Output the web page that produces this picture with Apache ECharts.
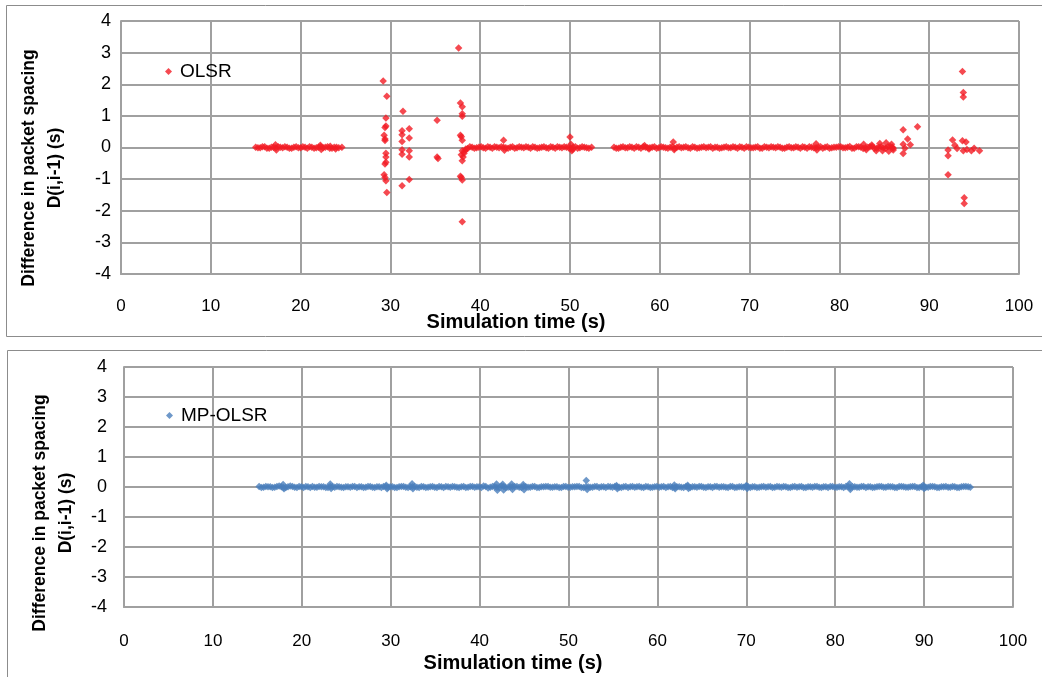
<!DOCTYPE html>
<html>
<head>
<meta charset="utf-8">
<script src="https://cdn.jsdelivr.net/npm/echarts@6/dist/echarts.min.js"></script>
<style>html,body{margin:0;padding:0;background:#fff}#c{width:1042px;height:677px}</style>
</head>
<body>
<div id="c"></div>
<script>
// ---------- data ----------
const xTickLabels = ['0','10','20','30','40','50','60','70','80','90','100'];
const yTickLabels = ['-4','-3','-2','-1','0','1','2','3','4'];

// OLSR: dense band of near-zero values (two interleaved readings)
const olsrBandTime = [
  15.0,15.5,16.0,16.5,17.0,17.5,18.0,18.5,19.0,19.5,20.0,20.5,21.0,21.5,22.0,22.5,23.0,23.5,24.0,24.6,
  38.6,39.1,39.6,40.1,40.6,41.1,41.6,42.1,42.6,43.1,43.6,44.1,44.6,45.1,45.6,46.1,46.6,47.1,47.6,48.1,
  48.6,49.1,49.6,50.1,50.6,51.1,51.6,52.1,52.4,
  54.9,55.4,55.9,56.4,56.9,57.4,57.9,58.4,58.9,59.4,59.9,60.4,60.9,61.4,61.9,62.4,62.9,63.4,63.9,64.4,
  64.9,65.4,65.9,66.4,66.9,67.4,67.9,68.4,68.9,69.4,69.9,70.4,70.9,71.4,71.9,72.4,72.9,73.4,73.9,74.4,
  74.9,75.4,75.9,76.4,76.9,77.4,77.9,78.4,78.9,79.4,79.9,80.4,80.9,81.4,81.9,82.4,82.9,83.4,83.9,84.4,
  84.9,85.4,85.9,86.0
];
const olsrBandDiff = [
  0.01,-0.01,0.02,-0.02,0.01,0.02,-0.01,0.01,-0.02,0.02,-0.01,0.01,0.02,-0.02,0.01,-0.01,0.02,-0.02,0.01,0.01,
  -0.03,0.01,-0.01,0.02,-0.02,0.01,0.02,-0.01,0.01,-0.02,0.02,-0.01,0.01,0.02,-0.02,0.01,-0.01,0.02,-0.02,0.01,
  0.02,-0.01,0.01,-0.02,0.02,-0.01,0.01,-0.02,0.01,
  0.01,-0.02,0.02,-0.01,0.01,0.02,-0.02,0.01,-0.01,0.02,-0.01,0.01,-0.02,0.02,0.01,-0.01,0.02,-0.02,0.01,-0.01,
  0.02,0.01,-0.02,0.01,-0.01,0.02,-0.01,0.01,0.02,-0.02,0.01,-0.01,0.02,-0.02,0.01,0.02,-0.01,0.01,-0.02,0.02,
  -0.01,0.01,0.02,-0.02,0.01,-0.01,0.02,0.01,-0.02,0.01,0.02,-0.01,0.01,-0.02,0.02,0.01,-0.01,0.02,-0.02,0.01,
  -0.01,0.02,0.01,-0.02
];
const olsrBandTime2 = [
  15.25,15.75,16.25,16.75,17.25,17.75,18.25,18.75,19.25,19.75,20.25,20.75,21.25,21.75,22.25,22.75,23.25,23.75,24.25,
  38.85,39.35,39.85,40.35,40.85,41.35,41.85,42.35,42.85,43.35,43.85,44.35,44.85,45.35,45.85,46.35,46.85,47.35,47.85,48.35,
  48.85,49.35,49.85,50.35,50.85,51.35,51.85,
  55.15,55.65,56.15,56.65,57.15,57.65,58.15,58.65,59.15,59.65,60.15,60.65,61.15,61.65,62.15,62.65,63.15,63.65,64.15,64.65,
  65.15,65.65,66.15,66.65,67.15,67.65,68.15,68.65,69.15,69.65,70.15,70.65,71.15,71.65,72.15,72.65,73.15,73.65,74.15,74.65,
  75.15,75.65,76.15,76.65,77.15,77.65,78.15,78.65,79.15,79.65,80.15,80.65,81.15,81.65,82.15,82.65,83.15,83.65,84.15,84.65,
  85.15,85.65
];
const olsrBandDiff2 = [
  -0.01,0.02,-0.02,0.01,-0.01,0.01,0.02,-0.02,0.01,-0.01,0.02,-0.02,0.01,-0.01,0.02,0.01,-0.02,0.01,-0.01,
  0.02,-0.02,0.01,-0.01,0.02,-0.02,0.01,0.02,-0.01,0.01,-0.02,0.02,-0.01,0.01,0.02,-0.02,0.01,-0.01,0.02,-0.02,
  0.01,0.02,-0.01,0.01,-0.02,0.02,-0.01,
  -0.02,0.01,-0.01,0.02,-0.02,0.01,0.02,-0.01,0.01,-0.02,0.02,-0.01,0.01,-0.02,0.02,0.01,-0.01,0.02,-0.02,0.01,
  -0.01,0.02,0.01,-0.02,0.01,-0.01,0.02,-0.02,0.01,0.02,-0.01,0.01,-0.02,0.02,-0.01,0.01,0.02,-0.02,0.01,-0.01,
  0.02,-0.02,0.01,0.02,-0.01,0.01,-0.02,0.02,-0.01,0.01,0.02,-0.01,0.03,-0.02,0.02,-0.03,0.01,0.03,-0.02,0.02,
  -0.02,0.03
];
// OLSR: spikes and outliers
const olsrSpikeTime = [
  17.2,17.3,22.2,22.3,23.3,23.9,
  29.2,29.6,29.5,29.5,29.4,29.3,29.4,29.4,29.5,29.5,29.5,29.4,29.3,29.4,29.5,29.6,
  31.4,31.3,31.3,31.3,31.3,31.3,31.3,
  32.1,32.1,32.1,32.1,32.1,
  35.2,35.2,35.3,
  37.6,37.8,38.0,38.0,38.0,37.8,37.9,38.0,38.0,37.9,38.0,37.8,37.9,38.0,38.0,
  38.1,38.2,38.3,38.4,
  42.6,42.7,50.0,50.1,50.2,50.3,
  58.3,58.8,61.5,61.6,77.4,77.5,
  82.7,83.0,83.6,84.1,84.5,84.8,85.2,85.5,85.8,86.0,
  87.1,88.7,87.6,87.9,87.1,87.3,87.1,
  92.1,92.1,92.1,92.6,92.85,93.1,93.7,94.1,93.8,94.2,94.7,95.0,95.6,
  93.7,93.8,93.8,93.9,93.9
];
const olsrSpikeDiff = [
  0.09,-0.08,0.07,-0.06,0.04,-0.05,
  2.10,1.62,0.93,0.68,0.63,0.39,0.27,0.22,-0.18,-0.30,-0.47,-0.52,-0.86,-0.95,-1.05,-1.42,
  1.15,0.53,0.40,0.19,-0.07,-0.21,-1.21,
  0.59,0.30,-0.10,-0.30,-1.01,
  0.86,-0.30,-0.35,
  3.15,1.41,1.29,1.07,0.99,0.39,0.34,0.23,-0.10,-0.23,-0.42,-0.91,-0.95,-1.03,-2.35,
  -0.30,-0.18,-0.10,-0.05,
  0.23,-0.09,0.33,0.10,-0.10,-0.06,
  0.06,-0.05,0.17,-0.07,0.12,-0.08,
  0.10,-0.07,0.08,-0.10,0.13,-0.10,0.15,-0.12,0.10,-0.08,
  0.56,0.66,0.27,0.09,0.10,-0.02,-0.19,
  -0.08,-0.26,-0.86,0.24,0.07,-0.03,0.21,0.17,-0.10,-0.06,-0.10,-0.02,-0.10,
  2.40,1.74,1.60,-1.59,-1.77
];

// MP-OLSR: dense band of near-zero values (two interleaved readings)
const mpTime = [
  15.2,15.7,16.2,16.7,17.2,17.7,18.2,18.7,19.2,19.7,20.2,20.7,21.2,21.7,22.2,22.7,23.2,23.7,24.2,24.7,
  25.2,25.7,26.2,26.7,27.2,27.7,28.2,28.7,29.2,29.7,30.2,30.7,31.2,31.7,32.2,32.7,33.2,33.7,34.2,34.7,
  35.2,35.7,36.2,36.7,37.2,37.7,38.2,38.7,39.2,39.7,40.2,40.7,41.2,41.7,42.2,42.7,43.2,43.7,44.2,44.7,
  45.2,45.7,46.2,46.7,47.2,47.7,48.2,48.7,49.2,49.7,50.2,50.7,51.2,51.7,52.2,52.7,53.2,53.7,54.2,54.7,
  55.2,55.7,56.2,56.7,57.2,57.7,58.2,58.7,59.2,59.7,60.2,60.7,61.2,61.7,62.2,62.7,63.2,63.7,64.2,64.7,
  65.2,65.7,66.2,66.7,67.2,67.7,68.2,68.7,69.2,69.7,70.2,70.7,71.2,71.7,72.2,72.7,73.2,73.7,74.2,74.7,
  75.2,75.7,76.2,76.7,77.2,77.7,78.2,78.7,79.2,79.7,80.2,80.7,81.2,81.7,82.2,82.7,83.2,83.7,84.2,84.7,
  85.2,85.7,86.2,86.7,87.2,87.7,88.2,88.7,89.2,89.7,90.2,90.7,91.2,91.7,92.2,92.7,93.2,93.7,94.2,94.7,
  95.2
];
const mpDiff = [
  0.02,-0.01,0.01,-0.02,0.02,0.01,-0.02,0.03,-0.01,0.02,-0.02,0.01,0.02,-0.01,0.01,-0.02,0.02,-0.01,0.01,-0.02,
  0.01,0.02,-0.02,0.01,-0.01,0.02,-0.02,0.01,0.02,-0.01,0.01,-0.02,0.02,-0.01,0.01,0.02,-0.02,0.01,-0.01,0.02,
  -0.02,0.01,0.02,-0.01,0.01,-0.02,0.02,-0.01,0.02,0.01,-0.02,0.02,-0.01,0.01,-0.02,0.02,-0.01,0.01,0.02,-0.02,
  0.01,-0.01,0.02,-0.02,0.01,0.02,-0.01,0.01,-0.02,0.02,-0.01,0.01,0.02,-0.02,0.01,-0.01,0.02,0.01,-0.02,0.01,
  0.02,-0.01,0.01,-0.02,0.02,0.01,-0.01,0.02,-0.02,0.01,-0.01,0.02,0.01,-0.02,0.01,-0.01,0.02,-0.02,0.01,0.02,
  -0.01,0.01,-0.02,0.02,0.01,-0.01,0.02,-0.02,0.01,-0.01,0.02,0.01,-0.02,0.01,-0.01,0.02,-0.01,0.01,0.02,-0.02,
  0.01,-0.01,0.02,-0.02,0.01,0.02,-0.01,0.01,-0.02,0.02,-0.01,0.01,0.02,-0.02,0.01,-0.01,0.02,0.01,-0.02,0.01,
  0.02,-0.01,0.01,-0.02,0.02,0.01,-0.01,0.02,-0.02,0.01,-0.01,0.02,0.01,-0.02,0.01,-0.01,0.02,-0.02,0.01,0.02,
  -0.01
];
const mpTime2 = [
  15.45,15.95,16.45,16.95,17.45,17.95,18.45,18.95,19.45,19.95,20.45,20.95,21.45,21.95,22.45,22.95,23.45,23.95,24.45,24.95,
  25.45,25.95,26.45,26.95,27.45,27.95,28.45,28.95,29.45,29.95,30.45,30.95,31.45,31.95,32.45,32.95,33.45,33.95,34.45,34.95,
  35.45,35.95,36.45,36.95,37.45,37.95,38.45,38.95,39.45,39.95,40.45,40.95,41.45,41.95,42.45,42.95,43.45,43.95,44.45,44.95,
  45.45,45.95,46.45,46.95,47.45,47.95,48.45,48.95,49.45,49.95,50.45,50.95,51.45,51.95,52.45,52.95,53.45,53.95,54.45,54.95,
  55.45,55.95,56.45,56.95,57.45,57.95,58.45,58.95,59.45,59.95,60.45,60.95,61.45,61.95,62.45,62.95,63.45,63.95,64.45,64.95,
  65.45,65.95,66.45,66.95,67.45,67.95,68.45,68.95,69.45,69.95,70.45,70.95,71.45,71.95,72.45,72.95,73.45,73.95,74.45,74.95,
  75.45,75.95,76.45,76.95,77.45,77.95,78.45,78.95,79.45,79.95,80.45,80.95,81.45,81.95,82.45,82.95,83.45,83.95,84.45,84.95,
  85.45,85.95,86.45,86.95,87.45,87.95,88.45,88.95,89.45,89.95,90.45,90.95,91.45,91.95,92.45,92.95,93.45,93.95,94.45,94.95
];
const mpDiff2 = [
  -0.02,0.02,0.01,-0.01,0.03,-0.02,0.01,0.02,-0.02,0.01,0.02,-0.02,-0.01,0.02,0.01,-0.02,0.01,0.02,-0.01,0.01,
  -0.01,0.02,0.01,-0.02,0.02,-0.01,0.01,-0.02,0.02,0.01,-0.02,0.01,0.02,-0.02,0.01,-0.01,0.02,-0.02,0.01,-0.01,
  0.02,-0.02,0.01,0.02,-0.01,0.01,-0.02,0.02,-0.01,0.01,0.03,-0.03,0.02,-0.02,0.03,-0.02,0.01,0.02,-0.01,0.02,
  -0.01,0.02,-0.02,0.01,0.02,-0.01,0.01,-0.02,0.02,-0.01,0.01,0.02,-0.02,0.01,-0.01,0.02,-0.02,0.01,0.02,-0.01,
  0.01,-0.02,0.02,0.01,-0.01,0.02,-0.02,0.01,-0.01,0.02,0.01,-0.02,0.02,-0.01,0.01,-0.02,0.02,0.01,-0.01,0.02,
  -0.02,0.01,0.02,-0.01,0.01,-0.02,0.02,-0.01,0.01,0.02,-0.02,0.01,-0.01,0.02,0.01,-0.02,0.02,-0.01,0.01,-0.02,
  0.02,0.01,-0.02,0.01,-0.01,0.02,-0.02,0.01,0.02,-0.01,0.01,-0.02,0.02,0.01,-0.01,0.02,-0.02,0.01,-0.01,0.02,
  -0.01,0.02,0.01,-0.02,0.02,-0.01,0.01,0.02,-0.02,0.01,-0.01,0.02,-0.02,0.01,0.02,-0.01,0.01,-0.02,0.02,0.01
];
// MP-OLSR: small bumps
const mpSpikeTime = [17.9,18.0,23.2,23.3,29.5,29.6,32.4,32.5,41.9,42.0,42.6,42.7,43.6,43.7,44.9,45.0,52.0,52.1,55.4,55.5,61.9,62.0,63.4,63.5,70.0,70.1,81.6,81.7,89.9,90.0];
const mpSpikeDiff = [0.08,-0.06,0.10,-0.05,0.06,-0.06,0.11,-0.06,0.10,-0.11,0.09,-0.10,0.10,-0.08,0.08,-0.09,0.22,-0.08,0.05,-0.06,0.07,-0.06,0.06,-0.05,0.05,-0.05,0.11,-0.08,0.06,-0.05];

// ---------- build ----------
function zip(a, b) { return a.map((v, i) => [v, b[i]]); }
const olsrData = zip(olsrBandTime, olsrBandDiff)
  .concat(zip(olsrBandTime2, olsrBandDiff2))
  .concat(zip(olsrSpikeTime, olsrSpikeDiff));
const mpData = zip(mpTime, mpDiff)
  .concat(zip(mpTime2, mpDiff2))
  .concat(zip(mpSpikeTime, mpSpikeDiff));

const FONT = "'Liberation Sans', Arial, sans-serif";
const GRID = '#a0a0a0';
const RED = '#f21c24';
const BLUE = '#4a7ebb';

function xAx(gi, margin) {
  return {
    gridIndex: gi, type: 'value', min: 0, max: 100, interval: 10,
    axisLine: { show: true, onZero: false, lineStyle: { color: GRID, width: 2 } },
    axisTick: { show: false },
    splitLine: { show: true, lineStyle: { color: GRID, width: 2 } },
    axisLabel: { margin: margin, fontSize: 17, color: '#000', fontFamily: FONT,
      formatter: v => xTickLabels[Math.round(v / 10)] }
  };
}
function yAx(gi, margin) {
  return {
    gridIndex: gi, type: 'value', min: -4, max: 4, interval: 1,
    axisLine: { show: true, onZero: false, lineStyle: { color: GRID, width: 2 } },
    axisTick: { show: false },
    splitLine: { show: true, lineStyle: { color: GRID, width: 2 } },
    axisLabel: { margin: margin, fontSize: 18, color: '#000', fontFamily: FONT,
      formatter: v => yTickLabels[Math.round(v + 4)] }
  };
}
function legend(name, left, top) {
  return {
    data: [name], left: left, top: top, icon: 'diamond', itemWidth: 7, itemHeight: 7,
    itemGap: 0, padding: 0,
    textStyle: { fontSize: 19, color: '#000', fontFamily: FONT, padding: [0, 0, 0, 3] }
  };
}

const chart = echarts.init(document.getElementById('c'), null, { renderer: 'canvas' });
chart.setOption({
  animation: false,
  backgroundColor: '#ffffff',
  grid: [
    { left: 121, top: 21, width: 898, height: 253 },
    { left: 124, top: 367, width: 889, height: 240 }
  ],
  xAxis: [xAx(0, 24), xAx(1, 26)],
  yAxis: [yAx(0, 10), yAx(1, 17)],
  legend: [legend('OLSR', 165, 62), legend('MP-OLSR', 166, 406)],
  series: [
    { name: 'OLSR', type: 'scatter', xAxisIndex: 0, yAxisIndex: 0, symbol: 'diamond', symbolSize: 7.5,
      itemStyle: { color: RED }, data: olsrData },
    { name: 'MP-OLSR', type: 'scatter', xAxisIndex: 1, yAxisIndex: 1, symbol: 'diamond', symbolSize: 7.5,
      itemStyle: { color: BLUE }, data: mpData }
  ],
  graphic: [
    { type: 'rect', shape: { x: 6.5, y: 5.5, width: 1040, height: 331 }, style: { fill: null, stroke: '#8c8c8c', lineWidth: 1 }, z: -1 },
    { type: 'rect', shape: { x: 7.5, y: 350.5, width: 1040, height: 330 }, style: { fill: null, stroke: '#8c8c8c', lineWidth: 1 }, z: -1 },
    { type: 'text', x: 516, y: 322, style: { text: 'Simulation time (s)', font: "bold 20px " + FONT, fill: '#000', textAlign: 'center', textVerticalAlign: 'middle' } },
    { type: 'text', x: 513, y: 663, style: { text: 'Simulation time (s)', font: "bold 20px " + FONT, fill: '#000', textAlign: 'center', textVerticalAlign: 'middle' } },
    { type: 'text', x: 42, y: 168, rotation: Math.PI / 2, style: { text: 'Difference in packet spacing\nD(i,i-1) (s)', font: "bold 17.5px " + FONT, lineHeight: 26, fill: '#000', textAlign: 'center', textVerticalAlign: 'middle' } },
    { type: 'text', x: 53, y: 513, rotation: Math.PI / 2, style: { text: 'Difference in packet spacing\nD(i,i-1) (s)', font: "bold 17.5px " + FONT, lineHeight: 26, fill: '#000', textAlign: 'center', textVerticalAlign: 'middle' } }
  ]
});
</script>
</body>
</html>
